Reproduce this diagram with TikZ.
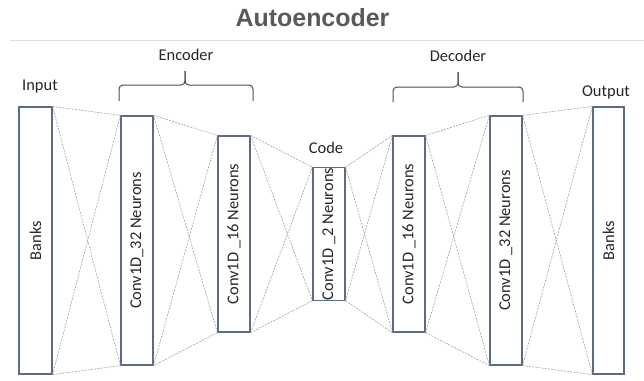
\documentclass[tikz,border=0pt]{standalone}
\usepackage{fontspec}
\setmainfont{Carlito}
\newfontfamily\headfont{Liberation Sans}
\definecolor{boxblue}{RGB}{92,106,134}
\definecolor{linkgray}{RGB}{160,160,160}
\definecolor{titlegray}{RGB}{89,89,89}
\definecolor{rulegray}{RGB}{222,222,222}

\begin{document}
\begin{tikzpicture}[x=1bp,y=-1bp,
    layer/.style={draw=boxblue, line width=1.2bp, inner sep=0pt, text=black!85, font=\fontsize{16.5}{19}\selectfont},
    link/.style={draw=linkgray, line width=0.6bp, dash pattern=on 2bp off 1.2bp},
    tag/.style={anchor=base, text=black!85, font=\fontsize{16.5}{19}\selectfont},
    curly/.style={draw=black!70, line width=1bp, rounded corners=4bp}]
    \useasboundingbox (0,0) rectangle (644,380);

    %title
    \node[anchor=base, text=titlegray, font=\headfont\bfseries\fontsize{25}{30}\selectfont] (title) at (312.5,26) {Autoencoder};
    \draw[rulegray, line width=0.8bp] (10,40) -- (644,40);

    %layers
    \node[layer, minimum width=33bp, minimum height=267bp] (in) at (35.5,240.5) {\rotatebox{90}{Banks}};
    \node[layer, minimum width=32bp, minimum height=249bp] (enc1) at (137,240.5) {\rotatebox{90}{Conv1D\_32 Neurons}};
    \node[layer, minimum width=32bp, minimum height=196bp] (enc2) at (234,234) {\rotatebox{90}{Conv1D \_16 Neurons}};
    \node[layer, minimum width=32bp, minimum height=132bp] (code) at (329,234) {\rotatebox{90}{Conv1D \_2 Neurons}};
    \node[layer, minimum width=32bp, minimum height=196bp] (dec1) at (409,234) {\rotatebox{90}{Conv1D \_16 Neurons}};
    \node[layer, minimum width=32bp, minimum height=249bp] (dec2) at (506,240.5) {\rotatebox{90}{Conv1D \_32 Neurons}};
    \node[layer, minimum width=31bp, minimum height=267bp] (out) at (608.5,240.5) {\rotatebox{90}{Banks}};

    %dashed links between neighbouring layers
    \foreach \a/\b in {in/enc1, enc1/enc2, enc2/code, code/dec1, dec1/dec2, dec2/out}{
        \draw[link] (\a.north east) -- (\b.north west);
        \draw[link] (\a.south east) -- (\b.south west);
        \draw[link] (\a.north east) -- (\b.south west);
        \draw[link] (\a.south east) -- (\b.north west);
    }

    %labels
    \node[tag] (input) at (40,90) {Input};
    \node[tag] (output) at (606,96) {Output};
    \node[tag] (codetag) at (326,153) {Code};
    \node[tag] (encoder) at (186,60) {Encoder};
    \node[tag] (decoder) at (458,61) {Decoder};

    %braces
    \draw[curly] (119,101) -- (119,85) -- (185,85) -- (185,71);
    \draw[curly] (253,101) -- (253,85) -- (185,85) -- (185,71);
    \draw[curly] (393,102) -- (393,87) -- (458,87) -- (458,72);
    \draw[curly] (523,102) -- (523,87) -- (458,87) -- (458,72);
\end{tikzpicture}
\end{document}
